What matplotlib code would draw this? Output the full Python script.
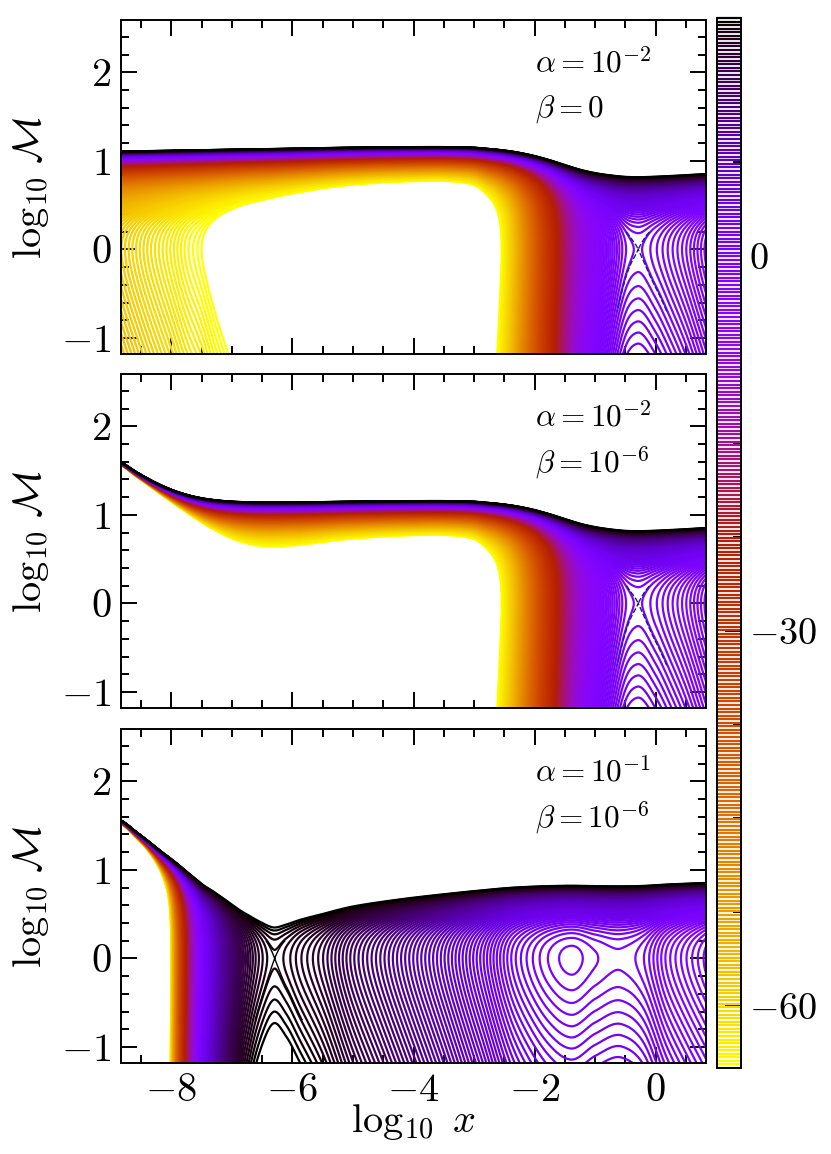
import numpy as np
import matplotlib
matplotlib.use("Agg")
import matplotlib.pyplot as plt
from matplotlib.ticker import MultipleLocator, FuncFormatter

plt.rcParams['font.family'] = 'cmr10'
plt.rcParams['mathtext.fontset'] = 'cm'
plt.rcParams['axes.formatter.use_mathtext'] = True

# potential, (log10 x, value) for each panel
x_top = [-8.83, -8.4, -8.0, -7.75, -7.5, -7.25, -7.0, -6.75, -6.5, -6.0, -5.0, -4.0, -3.5,
         -3.2, -3.0, -2.8, -2.6, -2.4, -2.1, -1.8, -1.5, -1.25, -1.0, -0.76, -0.5, -0.31,
         0.0, 0.25, 0.515, 0.83]
phi_top = [-59.5, -61.5, -63.3, -64.5, -65.5, -66.8, -68.0, -69.2, -70.2, -72.7, -77.8, -80.6, -80.8,
           -79.6, -77.5, -72.5, -67.2, -60.5, -47.5, -32.7, -19.0, -10.5, -5.5, -2.72, -0.9, -0.54,
           -1.1, -1.9, -2.9, -4.4]

x_mid = [-8.83, -8.6, -8.4, -8.2, -8.0, -7.75, -7.5, -7.25, -7.0, -6.75, -6.5, -6.0, -5.0, -4.0, -3.5,
         -3.2, -3.0, -2.8, -2.6, -2.4, -2.1, -1.8, -1.5, -1.25, -1.0, -0.76, -0.5, -0.31,
         0.0, 0.25, 0.515, 0.83]
phi_mid = [-735, -458, -312.5, -220.5, -163, -120.5, -97, -84.6, -78, -74.8, -73.4, -73.7, -77.9, -80.6, -80.8,
           -79.6, -77.5, -72.5, -67.2, -60.5, -47.5, -32.7, -19.0, -10.5, -5.5, -2.72, -0.9, -0.54,
           -1.1, -1.9, -2.9, -4.4]

x_bot = [-8.83, -8.6, -8.4, -8.18, -8.02, -7.82, -7.52, -7.3, -7.08, -6.9, -6.7, -6.5, -6.32, -6.1, -5.88, -5.49,
         -5.0, -4.5, -4.0, -3.5, -2.9, -2.34, -2.07, -1.78, -1.39, -1.0, -0.56, -0.2, 0.19, 0.5, 0.83]
phi_bot = [-626, -354, -210, -112, -70, -34, -4.5, 4.7, 10.6, 13.7, 15.6, 16.75, 17.29, 16.96, 16.31, 15.07,
           12.9, 10.9, 8.8, 6.6, 3.7, 0.95, 0.1, -0.58, -1.0, -0.62, -0.38, -0.85, -2.4, -3.4, -4.4]

alpha_labels = [r'$\alpha = 10^{-2}$', r'$\alpha = 10^{-2}$', r'$\alpha = 10^{-1}$']
beta_labels = [r'$\beta = 0$', r'$\beta = 10^{-6}$', r'$\beta = 10^{-6}$']
saddle_windows = [(-1, 0.5), (-1, 0.5), (-7, -5.5)]
saddle_colors = ['#1c1c8c', '#1c1c8c', 'black']

cbar_ticks = [-60, -30, 0]
level_min, level_max, n_levels = -65, 19, 296

tick_fmt = FuncFormatter(lambda v, _: f'${v:g}$')


def hermite(xq, xk, yk):
    # cubic through the knots, np.interp would leave kinks in the contours
    xk = np.array(xk, dtype=float)
    yk = np.array(yk, dtype=float)
    dk = np.gradient(yk, xk)
    i = np.clip(np.searchsorted(xk, xq) - 1, 0, len(xk) - 2)
    h = xk[i + 1] - xk[i]
    t = (xq - xk[i]) / h
    return ((2*t**3 - 3*t**2 + 1) * yk[i] + (t**3 - 2*t**2 + t) * h * dk[i]
            + (-2*t**3 + 3*t**2) * yk[i + 1] + (t**3 - t**2) * h * dk[i + 1])


W, H = 831, 1154
fig = plt.figure(figsize=(W / 100, H / 100), dpi=100)

levels = np.linspace(level_min, level_max, n_levels)
lx = np.linspace(-8.83, 0.83, 2000)
lm = np.linspace(-1.18, 2.59, 1509)
LX, LM = np.meshgrid(lx, lm)
M = 10.0 ** LM

panels = [(20, 354), (374, 708), (729, 1063)]
tables = [(x_top, phi_top), (x_mid, phi_mid), (x_bot, phi_bot)]

for k in range(3):
    y0, y1 = panels[k]
    ax = fig.add_axes([121 / W, 1 - y1 / H, (706 - 121) / W, (y1 - y0) / H])
    ax.set_axisbelow(True)
    phi = hermite(lx, *tables[k])
    field = 0.5 * M**2 - np.log(M) + phi[None, :]
    cs = ax.contour(LX, LM, field, levels=levels, cmap='gnuplot_r', linewidths=1.6)

    # separatrix, only close to the X point
    win = (lx > saddle_windows[k][0]) & (lx < saddle_windows[k][1])
    xs = lx[win][np.argmax(phi[win])]
    ix = np.abs(lx - xs) < 0.5
    iy = (lm > -0.7) & (lm < 0.2)
    sub = field[np.ix_(iy, ix)]
    ax.contour(lx[ix], lm[iy], sub, levels=[phi[win].max() + 0.5],
               colors=saddle_colors[k], linewidths=1.0)

    ax.set_xlim(-8.83, 0.83)
    ax.set_ylim(-1.18, 2.59)
    ax.xaxis.set_major_locator(MultipleLocator(2))
    ax.xaxis.set_minor_locator(MultipleLocator(0.5))
    ax.yaxis.set_major_locator(MultipleLocator(1))
    ax.yaxis.set_minor_locator(MultipleLocator(0.2))
    ax.xaxis.set_major_formatter(tick_fmt)
    ax.yaxis.set_major_formatter(tick_fmt)
    ax.tick_params(which='both', direction='in', top=True, right=True, width=1.4)
    ax.tick_params(which='major', length=11.5, labelsize=29, pad=7)
    ax.tick_params(which='minor', length=5.5)
    for s in ax.spines.values():
        s.set_linewidth(1.4)
    if k < 2:
        ax.tick_params(labelbottom=False)
    else:
        ax.set_xlabel(r'$\log_{10}\,\,x$', fontsize=29, labelpad=-5)
    ax.set_ylabel(r'$\log_{10}\,\mathcal{M}$', fontsize=29, labelpad=7)
    ax.text(0.707, 0.870, alpha_labels[k], transform=ax.transAxes, fontsize=22.5, va='center')
    ax.text(0.707, 0.733, beta_labels[k], transform=ax.transAxes, fontsize=22.5, va='center')

cax = fig.add_axes([717 / W, 1 - 1068 / H, (741 - 717) / W, (1068 - 18) / H])
cb = fig.colorbar(cs, cax=cax, ticks=cbar_ticks)
cb.ax.yaxis.set_major_formatter(tick_fmt)
cb.ax.yaxis.set_minor_locator(MultipleLocator(7.5))
cb.ax.tick_params(which='both', direction='in', width=1.4)
cb.ax.tick_params(which='major', length=11.5, labelsize=27.5, pad=6)
cb.ax.tick_params(which='minor', length=5.5)
cb.outline.set_linewidth(1.4)

fig.savefig('out.png', dpi=100)
